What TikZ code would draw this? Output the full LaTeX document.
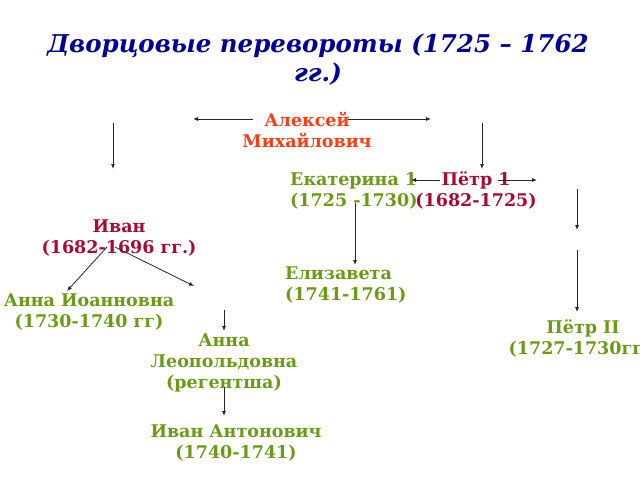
\documentclass[tikz,border=0pt]{standalone}
\usepackage{fontspec}
\setmainfont{DejaVu Serif}
\usetikzlibrary{arrows.meta}
\definecolor{titleblue}{RGB}{0,0,153}
\definecolor{alexred}{RGB}{255,60,20}
\definecolor{royalred}{RGB}{170,10,50}
\definecolor{heirgreen}{RGB}{105,155,20}
\begin{document}
\begin{tikzpicture}[x=1pt,y=-1pt,
  lbl/.style={inner sep=0pt, font=\bfseries\fontsize{17.5}{21}\selectfont},
  arr/.style={draw=black!85, line width=0.8pt, -{Latex[length=5pt,width=4pt]}}]
\useasboundingbox (0,0) rectangle (640,480);
\node[inner sep=0pt, font=\bfseries\itshape\fontsize{24.5}{29}\selectfont, text=titleblue, align=center] (title) at (318,60) {Дворцовые перевороты (1725 – 1762\\гг.)};
\node[lbl, text=alexred, align=center] (alex) at (307,130) {Алексей\\Михайлович};
\node[lbl, text=heirgreen, align=left, anchor=west] (ekat) at (290,190.5) {Екатерина 1\\(1725 -1730)};
\node[lbl, text=royalred, align=center] (petr) at (476,190.5) {Пётр 1\\(1682-1725)};
\node[lbl, text=royalred, align=center] (ivan) at (119,237.5) {Иван\\(1682-1696 гг.)};
\node[lbl, text=heirgreen, align=center] (annai) at (89,312) {Анна Иоанновна\\(1730-1740 гг)};
\node[lbl, text=heirgreen, align=left, anchor=west] (eliz) at (285,284.5) {Елизавета\\(1741-1761)};
\node[lbl, text=heirgreen, align=center] (petr2) at (583,338) {Пётр II\\(1727-1730гг.)};
\node[lbl, text=heirgreen, align=center] (annal) at (224,362.5) {Анна\\Леопольдовна\\(регентша)};
\node[lbl, text=heirgreen, align=center] (ivana) at (236,442.5) {Иван Антонович\\(1740-1741)};
\coordinate (a1s) at (253,119); \coordinate (a1e) at (193,119);
\coordinate (a2s) at (348,119); \coordinate (a2e) at (431,119);
\coordinate (a3s) at (113,123); \coordinate (a3e) at (113,169);
\coordinate (a4s) at (482,123); \coordinate (a4e) at (482,169);
\coordinate (a5s) at (440,180); \coordinate (a5e) at (411,180);
\coordinate (a6s) at (498,180); \coordinate (a6e) at (537,180);
\coordinate (a7s) at (355,203); \coordinate (a7e) at (355,265);
\coordinate (a8s) at (577,189); \coordinate (a8e) at (577,230);
\coordinate (a9s) at (577,250); \coordinate (a9e) at (577,312);
\coordinate (a10s) at (107,247); \coordinate (a10e) at (67,291);
\coordinate (a11s) at (115,247); \coordinate (a11e) at (194,286);
\coordinate (a12s) at (224,310); \coordinate (a12e) at (224,331);
\coordinate (a13s) at (224,387); \coordinate (a13e) at (224,416);
\foreach \i in {1,...,13} {\draw[arr] (a\i s) -- (a\i e);}
\end{tikzpicture}
\end{document}
